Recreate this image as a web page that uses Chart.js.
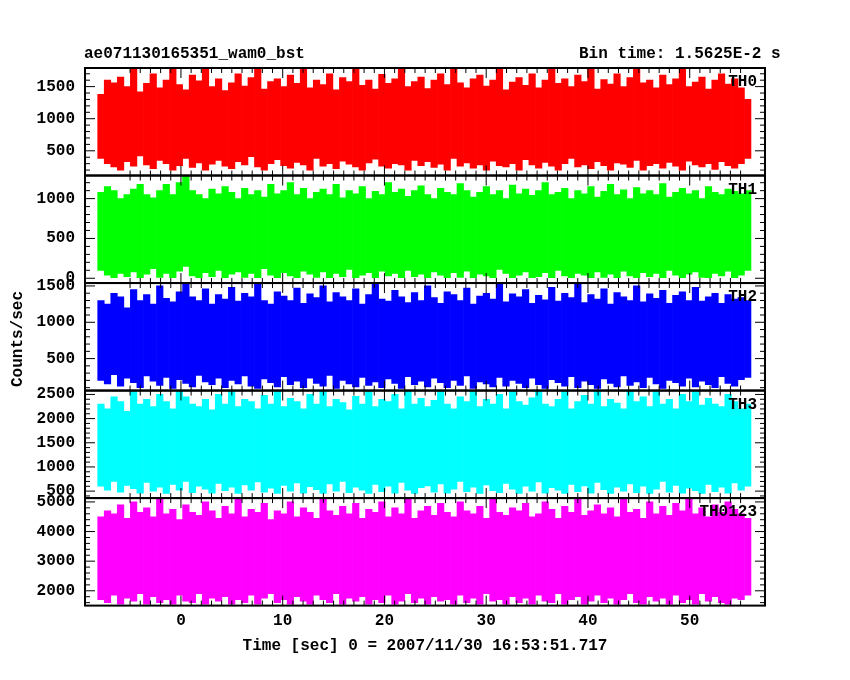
<!DOCTYPE html>
<html><head><meta charset="utf-8">
<script src="https://cdn.jsdelivr.net/npm/chart.js@4"></script>
<style>
body{margin:0;background:#fff;width:850px;height:680px;position:relative;overflow:hidden}
#wrap{position:absolute;left:0;top:0;width:850px;height:680px}
.t{position:absolute;font:bold 16px "Liberation Mono",monospace;color:#000;white-space:nowrap}
</style></head><body>
<div id="wrap"><canvas id="c" width="850" height="680"></canvas></div>
<div class="t" style="left:84px;top:45px">ae071130165351_wam0_bst</div>
<div class="t" style="left:579px;top:45px">Bin time: 1.5625E-2 s</div>
<div class="t" style="left:-30px;top:330px;transform:rotate(-90deg)">Counts/sec</div>
<script>
const tStart = -7.86, tEnd = 55.7;
const panelNames = ["TH0","TH1","TH2","TH3","TH0123"];
const colors = ["#ff0000","#00ff00","#0000ff","#00ffff","#ff00ff"];
const yRanges = [[115,1790],[-60,1290],[60,1540],[356,2580],[1500,5130]];
const th0Hi = [1380,1600,1560,1650,1500,1790,1420,1550,1700,1480,1600,1790,1530,1450,1680,1590,1790,1500,1620,1440,1560,1700,1510,1640,1790,1460,1580,1620,1500,1680,1550,1790,1480,1600,1530,1700,1450,1640,1580,1790,1520,1600,1460,1690,1550,1620,1790,1500,1580,1650,1470,1600,1700,1530,1790,1560,1480,1620,1680,1510,1600,1790,1450,1570,1640,1520,1700,1480,1600,1790,1550,1620,1500,1680,1580,1790,1460,1610,1540,1700,1500,1640,1790,1560,1600,1480,1680,1530,1620,1790,1500,1570,1650,1460,1600,1700,1540,1620,1480,1300];
const th0Lo = [380,300,250,200,330,260,420,280,220,350,300,200,270,380,240,310,200,290,350,260,220,330,280,410,250,200,300,360,270,230,320,280,200,380,260,300,220,340,290,250,200,310,370,260,230,300,280,200,350,270,330,240,290,200,380,260,310,230,280,200,340,270,250,300,200,360,280,230,320,260,200,300,380,250,280,220,330,270,200,310,290,240,350,200,270,300,230,320,260,200,340,280,250,300,210,330,270,230,300,380];
const th1Hi = [1080,1150,1100,1000,1050,1120,1180,1050,1010,1100,1180,1050,1200,1290,1100,1050,1000,1120,1060,1150,1080,1000,1130,1050,1100,1020,1180,1060,1100,1200,1050,1130,1000,1080,1120,1050,1180,1010,1100,1060,1150,1000,1090,1050,1200,1080,1120,1030,1100,1160,1050,1000,1130,1080,1050,1190,1100,1020,1080,1150,1050,1100,1000,1170,1060,1120,1040,1100,1200,1050,1080,1130,1000,1100,1060,1150,1020,1090,1180,1050,1110,1000,1140,1060,1100,1050,1190,1020,1080,1130,1060,1100,1000,1150,1080,1050,1120,1090,1060,1100];
const th1Lo = [100,40,0,60,20,80,0,50,120,10,60,0,90,150,30,0,70,20,100,0,50,80,10,60,0,120,40,0,70,30,0,90,50,10,80,0,60,20,110,0,40,70,0,90,30,60,0,100,20,50,0,80,40,0,70,10,90,0,50,30,0,110,60,0,40,80,0,20,70,0,100,30,0,60,40,0,80,10,50,0,90,30,0,70,20,60,0,100,40,0,50,80,10,0,60,30,90,0,40,100];
const th2Hi = [1300,1250,1400,1350,1200,1450,1300,1380,1250,1500,1330,1280,1420,1540,1350,1300,1460,1250,1380,1320,1480,1290,1400,1350,1540,1300,1250,1420,1360,1300,1470,1260,1390,1340,1500,1280,1410,1350,1300,1460,1250,1380,1540,1320,1290,1440,1350,1270,1410,1300,1500,1340,1260,1420,1380,1300,1470,1250,1360,1400,1320,1540,1280,1390,1350,1450,1260,1370,1310,1480,1290,1400,1340,1540,1270,1380,1320,1460,1250,1410,1350,1300,1500,1280,1390,1330,1440,1260,1370,1420,1300,1480,1290,1350,1400,1260,1380,1320,1340,1300];
const th2Lo = [200,150,280,120,230,170,100,260,190,130,240,90,210,160,110,270,180,140,230,100,200,150,260,120,90,220,170,110,250,140,190,100,230,160,120,270,90,200,150,110,240,130,180,100,220,160,90,250,140,190,110,230,170,100,200,130,260,90,180,150,110,240,120,200,160,100,230,140,90,210,170,120,250,100,190,140,90,220,160,110,260,130,180,100,240,150,90,200,170,120,230,110,190,140,100,250,160,120,210,240];
const th3Hi = [2300,2200,2450,2350,2150,2580,2300,2400,2250,2500,2350,2200,2580,2450,2300,2250,2400,2180,2500,2300,2580,2250,2400,2350,2200,2480,2300,2580,2250,2420,2350,2200,2500,2300,2580,2250,2400,2330,2180,2460,2300,2580,2250,2400,2350,2500,2200,2580,2300,2420,2250,2380,2580,2300,2200,2450,2350,2580,2250,2400,2300,2500,2200,2580,2350,2280,2430,2580,2300,2250,2400,2580,2200,2350,2480,2300,2580,2250,2400,2320,2200,2580,2350,2450,2250,2580,2300,2400,2200,2500,2350,2580,2280,2420,2300,2250,2500,2350,2200,2300];
const th3Lo = [600,520,700,480,620,550,460,680,500,580,450,640,520,700,470,600,540,460,660,510,580,450,630,520,690,480,560,450,620,500,670,460,590,530,450,650,500,700,470,580,520,450,640,490,600,460,680,520,450,570,610,480,650,460,540,700,490,580,450,630,510,470,660,540,450,600,500,690,460,570,520,450,640,490,610,460,680,530,450,580,500,650,470,600,450,540,700,480,620,460,560,510,450,640,490,580,460,670,520,600];
const th0123Hi = [4500,4700,4600,4900,4450,5000,4650,4800,4500,5130,4600,4750,4400,4900,4650,4550,5000,4700,4450,4850,4600,5130,4500,4750,4650,4950,4400,4700,4600,5000,4500,4800,4650,4450,5130,4700,4550,4850,4600,4950,4450,4750,4650,5000,4500,4800,4600,5130,4450,4700,4850,4550,4950,4650,4500,5000,4700,4600,4850,4450,5130,4650,4550,4800,4700,4950,4500,4600,5000,4750,4450,4850,4650,5130,4550,4700,4900,4600,4800,4500,5130,4650,4750,4450,5000,4600,4850,4550,4950,4700,5130,4600,4800,4500,4900,4650,5000,4750,4600,4450];
const th0123Lo = [1700,1600,1850,1550,1750,1650,1900,1550,1800,1600,1700,1550,1850,1650,1600,1900,1550,1750,1650,1800,1550,1700,1600,1850,1550,1750,1900,1600,1700,1550,1800,1650,1550,1850,1700,1600,1900,1550,1750,1650,1800,1550,1700,1600,1850,1550,1650,1900,1600,1750,1550,1800,1650,1700,1550,1850,1600,1750,1550,1900,1650,1700,1550,1800,1600,1750,1550,1850,1650,1600,1900,1550,1700,1800,1550,1650,1850,1600,1750,1550,1700,1900,1600,1550,1800,1650,1750,1550,1850,1600,1700,1550,1900,1650,1800,1600,1550,1750,1700,1850];
const xTicks = [0,10,20,30,40,50];
const yTicks = [[500,1000,1500],[0,500,1000],[500,1000,1500],[500,1000,1500,2000,2500],[2000,3000,4000,5000]];
const hiArr=[th0Hi,th1Hi,th2Hi,th3Hi,th0123Hi], loArr=[th0Lo,th1Lo,th2Lo,th3Lo,th0123Lo];
const n = th0Hi.length, dt=(tEnd-tStart)/(n-1);
const FONT={family:"Liberation Mono",size:16,weight:"bold"};
const datasets=[], scales={};
scales.x={type:'linear',min:-9.43,max:57.4,position:'bottom',offset:false,
  afterBuildTicks:s=>{s.ticks=xTicks.map(v=>({value:v}))},
  grid:{drawOnChartArea:false,tickLength:0,drawTicks:false,offset:false},border:{display:false},
  ticks:{color:'#000',font:FONT,padding:6,autoSkip:false,maxRotation:0,callback:v=>String(v)},
  title:{display:true,text:'Time [sec] 0 = 2007/11/30 16:53:51.717',color:'#000',font:FONT,padding:{top:0}}};
for(let p=4;p>=0;p--){
  const id='y'+p;
  scales[id]={type:'linear',min:yRanges[p][0],max:yRanges[p][1],stack:'s',stackWeight:1,position:'left',offset:false,
    afterBuildTicks:(s)=>{s.ticks=yTicks[p].map(v=>({value:v}))},
    afterFit:(s)=>{s.width=85},
    grid:{drawOnChartArea:false,drawTicks:false},border:{display:false},
    ticks:{color:'#000',font:FONT,padding:10,autoSkip:false,callback:v=>String(v)}};
}
for(let p=0;p<5;p++){
  datasets.push({type:'bar',label:panelNames[p],yAxisID:'y'+p,xAxisID:'x',backgroundColor:colors[p],
    borderWidth:0,barPercentage:1,categoryPercentage:1,grouped:false,
    data:hiArr[p].map((h,i)=>({x:tStart+i*dt,y:[loArr[p][i],h]}))});
}
const frame={id:'frame',afterDatasetsDraw(c){
  const ctx=c.ctx,a=c.chartArea,xs=c.scales.x;
  ctx.save();ctx.strokeStyle='#000';ctx.fillStyle='#000';
  for(let p=0;p<5;p++){
    const s=c.scales['y'+p];
    ctx.lineWidth=1;
    const step=yTicks[p][1]-yTicks[p][0], minor=step/5;
    for(let v=Math.ceil(yRanges[p][0]/minor)*minor;v<=yRanges[p][1];v+=minor){
      const y=s.getPixelForValue(v);
      const major=Math.abs(v/step-Math.round(v/step))<1e-6;
      const L=major?10:5;
      ctx.beginPath();ctx.moveTo(a.left,y);ctx.lineTo(a.left+L,y);ctx.moveTo(a.right,y);ctx.lineTo(a.right-L,y);ctx.stroke();
    }
    for(let v=-5;v<=55;v+=1){
      const x=xs.getPixelForValue(v);const L=(v%10===0)?10:5;
      ctx.beginPath();ctx.moveTo(x,s.top);ctx.lineTo(x,s.top+L);ctx.moveTo(x,s.bottom);ctx.lineTo(x,s.bottom-L);ctx.stroke();
    }
    ctx.lineWidth=2;ctx.strokeRect(a.left,s.top,a.right-a.left,s.bottom-s.top);
    ctx.font='bold 16px "Liberation Mono"';ctx.textAlign='right';ctx.textBaseline='top';
    ctx.fillText(panelNames[p],a.right-8,s.top+6);
  }
  ctx.restore();
}};
new Chart(document.getElementById('c'),{data:{datasets},
  options:{responsive:false,animation:false,
    layout:{padding:{left:0,right:85,top:68,bottom:20}},
    plugins:{legend:{display:false},tooltip:{enabled:false}},scales},
  plugins:[frame]});
</script></body></html>
